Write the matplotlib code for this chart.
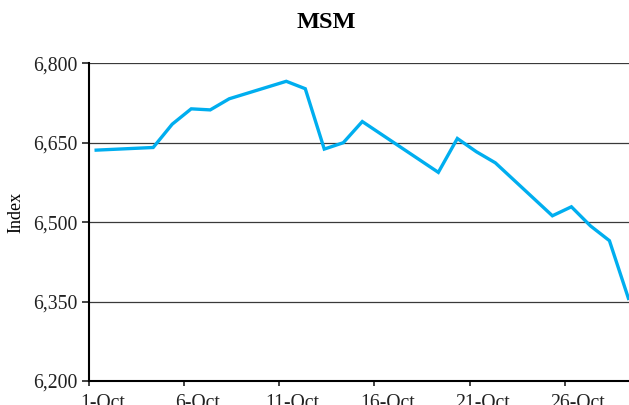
import matplotlib
matplotlib.use("Agg")
import matplotlib.pyplot as plt

# trading days in October and index values
days = [1, 4, 5, 6, 7, 8, 11, 12, 13, 14, 15, 19, 20, 21, 22, 25, 26, 27, 28, 29]
values = [6636, 6641, 6685, 6714, 6712, 6733, 6766, 6752, 6638, 6650, 6690,
          6594, 6658, 6633, 6612, 6512, 6529, 6493, 6465, 6356]

tick_days = [1, 6, 11, 16, 21, 26]
tick_labels = [str(d) + '-Oct' for d in tick_days]
yticks = [6200, 6350, 6500, 6650, 6800]

plt.rcParams['font.family'] = 'Liberation Serif'

fig = plt.figure(figsize=(6.29, 4.05), dpi=100)
ax = fig.add_axes([0.142, 0.0593, 0.858, 0.7844])

ax.plot(days, values, color='#00AEEF', linewidth=2.4, solid_joinstyle='miter')

ax.set_ylim(6200, 6800)
ax.set_xlim(0.64, 29.03)
ax.set_yticks(yticks)
ax.set_yticklabels(['{:,}'.format(v) for v in yticks], fontsize=14.2)

# tick marks sit a bit left of the dates, labels a bit right of them
ax.set_xticks([d - 0.36 for d in tick_days])
ax.set_xticklabels([])
ax.set_xticks([d + 0.32 for d in tick_days], minor=True)
ax.set_xticklabels(tick_labels, minor=True, fontsize=14.2)

ax.yaxis.grid(True, color='#3a3a3a', linewidth=0.9)
ax.set_axisbelow(True)
for s in ['top', 'right']:
    ax.spines[s].set_visible(False)
ax.spines['left'].set_linewidth(1.5)
ax.spines['bottom'].set_linewidth(1.5)
ax.tick_params(axis='y', length=5, width=1.2, pad=3.5, colors='#222222')
ax.tick_params(axis='x', which='major', length=3.6, width=1.2, colors='#222222')
ax.tick_params(axis='x', which='minor', length=0, pad=9.5, colors='#222222')

ax.set_ylabel('Index', fontsize=13)
ax.yaxis.set_label_coords(-0.12, 0.53)

fig.text(0.518, 0.945, 'MSM', ha='center', va='center', fontsize=17.5, fontweight='bold')

fig.savefig('out.png', dpi=100)
